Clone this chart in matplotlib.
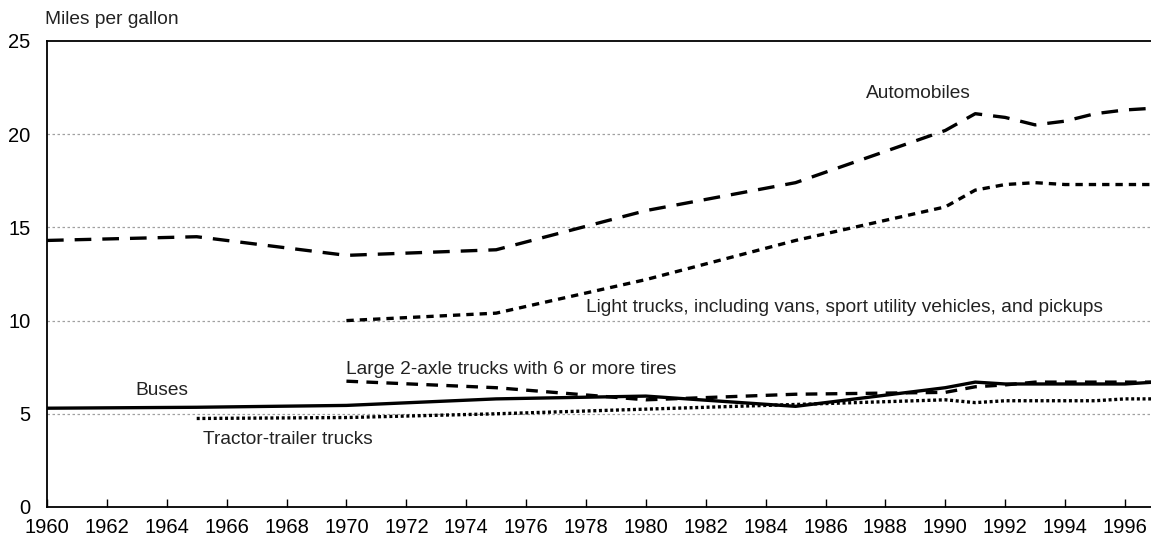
import matplotlib
matplotlib.use("Agg")
import matplotlib.pyplot as plt

plt.rcParams["font.family"] = ["Liberation Sans", "DejaVu Sans"]

# Fuel economy by vehicle type (miles per gallon)
auto_years = [1960, 1965, 1970, 1975, 1980, 1985, 1990, 1991, 1992, 1993, 1994, 1995, 1996, 1997]
auto_mpg = [14.3, 14.5, 13.5, 13.8, 15.9, 17.4, 20.2, 21.1, 20.9, 20.5, 20.7, 21.1, 21.3, 21.4]

light_years = [1970, 1975, 1980, 1985, 1990, 1991, 1992, 1993, 1994, 1995, 1996, 1997]
light_mpg = [10.0, 10.4, 12.2, 14.3, 16.1, 17.0, 17.3, 17.4, 17.3, 17.3, 17.3, 17.3]

bus_years = [1960, 1965, 1970, 1975, 1980, 1985, 1990, 1991, 1992, 1993, 1994, 1995, 1996, 1997]
bus_mpg = [5.3, 5.35, 5.45, 5.8, 5.95, 5.4, 6.4, 6.7, 6.6, 6.6, 6.6, 6.6, 6.6, 6.7]

axle2_years = [1970, 1975, 1980, 1985, 1990, 1991, 1992, 1993, 1994, 1995, 1996, 1997]
axle2_mpg = [6.75, 6.4, 5.75, 6.05, 6.15, 6.45, 6.55, 6.7, 6.7, 6.7, 6.7, 6.7]

tractor_years = [1965, 1970, 1975, 1980, 1985, 1990, 1991, 1992, 1993, 1994, 1995, 1996, 1997]
tractor_mpg = [4.75, 4.8, 5.0, 5.25, 5.5, 5.75, 5.6, 5.7, 5.7, 5.7, 5.7, 5.8, 5.8]

x_ticks = list(range(1960, 1997, 2))
y_ticks = [0, 5, 10, 15, 20, 25]

fig = plt.figure(figsize=(11.51, 5.40), dpi=100)
ax = fig.add_axes([47 / 1151, 33 / 540, 1 - 47 / 1151, 466 / 540])

lw = 2.4
ax.plot(auto_years, auto_mpg, color="black", lw=lw, dashes=(5, 3.3), solid_capstyle="butt")
ax.plot(light_years, light_mpg, color="black", lw=lw, dashes=(2.2, 1.8))
ax.plot(bus_years, bus_mpg, color="black", lw=lw)
ax.plot(axle2_years, axle2_mpg, color="black", lw=lw, dashes=(3.5, 2.5))
ax.plot(tractor_years, tractor_mpg, color="black", lw=lw, dashes=(0.9, 0.8))

ax.set_xlim(1960, 1996.87)
ax.set_ylim(0, 25)
ax.set_xticks(x_ticks)
ax.set_yticks(y_ticks)
ax.tick_params(axis="x", direction="in", length=6, width=1, pad=8, labelsize=14.5)
ax.tick_params(axis="y", length=0, pad=12, labelsize=14.5)

for v in y_ticks[1:-1]:
    ax.axhline(v, color="#a0a0a0", lw=0.9, ls=(0, (2, 2)), zorder=0)

for side in ["left", "bottom", "top"]:
    ax.spines[side].set_linewidth(1.3)
ax.spines["right"].set_visible(False)

fs = 13.8
ax.text(1987.35, 22.2, "Automobiles", fontsize=fs, color="#222222", va="center")
ax.text(1978.0, 10.7, "Light trucks, including vans, sport utility vehicles, and pickups",
        fontsize=fs, color="#222222", va="center")
ax.text(1970.0, 7.4, "Large 2-axle trucks with 6 or more tires", fontsize=fs, color="#222222", va="center")
ax.text(1962.95, 6.25, "Buses", fontsize=fs, color="#222222", va="center")
ax.text(1965.2, 3.6, "Tractor-trailer trucks", fontsize=fs, color="#222222", va="center")

fig.text(45 / 1151, 1 - 20 / 540, "Miles per gallon", fontsize=fs, color="#222222", va="center")

fig.savefig("out.png", dpi=100)
